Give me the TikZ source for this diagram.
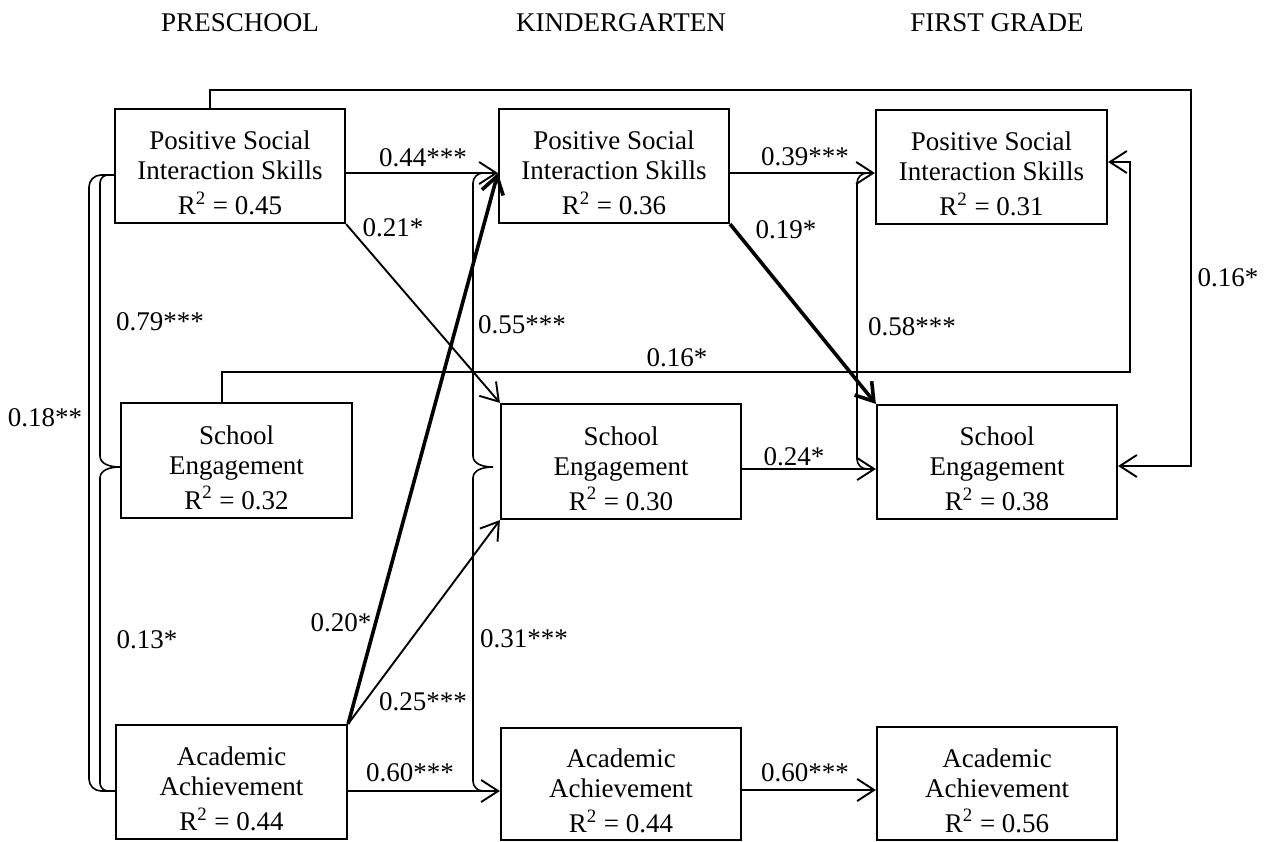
\documentclass[tikz,border=0pt]{standalone}
\usepackage{fontspec}
\setmainfont{Liberation Serif}
\usetikzlibrary{arrows.meta,fit,calc}
\begin{document}
\begin{tikzpicture}[x=0.5pt,y=-0.5pt,
  box/.style={draw, line width=1.1pt, inner sep=0pt},
  btext/.style={align=center, inner sep=0pt, font=\fontsize{13.5}{15}\selectfont},
  lab/.style={inner sep=0pt, font=\fontsize{13.5}{15}\selectfont},
  arr/.style={-{Straight Barb[length=8.5pt,width=11pt]}, line width=0.95pt},
  thickarr/.style={-{Straight Barb[length=8.5pt,width=11pt]}, line width=1.8pt},
  corr/.style={line width=0.8pt, rounded corners=#1},
  corr/.default=5pt,
  brace/.style={line width=0.8pt},
]
\useasboundingbox (0,0) rectangle (1268,841);

% headers
\node[lab] (h1) at (240,23) {PRESCHOOL};
\node[lab] (h2) at (621,23) {KINDERGARTEN};
\node[lab] (h3) at (997,23) {FIRST GRADE};

% boxes
\node[box, fit={(115,109) (345,223)}] (ppsis) {};
\node[box, fit={(121,403) (352,518)}] (pse) {};
\node[box, fit={(116,725) (347,839)}] (paa) {};
\node[box, fit={(499,109) (729,223)}] (kpsis) {};
\node[box, fit={(501,404) (741,519)}] (kse) {};
\node[box, fit={(501,728) (741,840)}] (kaa) {};
\node[box, fit={(876,110) (1107,224)}] (fpsis) {};
\node[box, fit={(877,405) (1117,519)}] (fse) {};
\node[box, fit={(877,727) (1117,840)}] (faa) {};

% box texts
\node[btext] (tppsis) at ([yshift=-3.5pt]ppsis.center) {Positive Social\\Interaction Skills\\[2.5pt]R\textsuperscript{2} = 0.45};
\node[btext] (tpse) at ([yshift=-3.5pt]pse.center) {School\\Engagement\\[2.5pt]R\textsuperscript{2} = 0.32};
\node[btext] (tpaa) at ([yshift=-3.5pt]paa.center) {Academic\\Achievement\\[2.5pt]R\textsuperscript{2} = 0.44};
\node[btext] (tkpsis) at ([yshift=-3.5pt]kpsis.center) {Positive Social\\Interaction Skills\\[2.5pt]R\textsuperscript{2} = 0.36};
\node[btext] (tkse) at ([yshift=-3.5pt]kse.center) {School\\Engagement\\[2.5pt]R\textsuperscript{2} = 0.30};
\node[btext] (tkaa) at ([yshift=-3.5pt]kaa.center) {Academic\\Achievement\\[2.5pt]R\textsuperscript{2} = 0.44};
\node[btext] (tfpsis) at ([yshift=-3.5pt]fpsis.center) {Positive Social\\Interaction Skills\\[2.5pt]R\textsuperscript{2} = 0.31};
\node[btext] (tfse) at ([yshift=-3.5pt]fse.center) {School\\Engagement\\[2.5pt]R\textsuperscript{2} = 0.38};
\node[btext] (tfaa) at ([yshift=-3.5pt]faa.center) {Academic\\Achievement\\[2.5pt]R\textsuperscript{2} = 0.56};

% helper coordinates
\coordinate (r1) at (0,173);
\coordinate (r5) at (0,791);
\coordinate (r8) at (0,469);
\coordinate (r9) at (0,790);
\coordinate (c175) at (0,175);
\coordinate (a10) at (222,372);
\coordinate (b10) at (1130,162);
\coordinate (a11) at (210,90);
\coordinate (b11) at (1191,466);

% correlation brackets (preschool)
\draw[corr=6pt] (ppsis.west |- c175) -- (89,175) -- (89,791) -- (paa.west |- r5);
\draw[corr=4pt] (ppsis.west |- c175) -- (100,175) -- (100,456);
\draw[brace] (100,456) .. controls (100,464) and (110,467) .. (120,467)
             .. controls (110,467) and (100,470) .. (100,478);
\draw[corr=4pt] (100,478) -- (100,791) -- (paa.west |- r5);

% correlation brackets (kindergarten)
\coordinate (kt) at (488,173);
\coordinate (ktip) at (493,467);
\coordinate (kb) at (488,791);
\draw[corr=5pt] (kt) -- (473,173) -- (473,456);
\draw[brace] (473,456) .. controls (473,464) and (483,467) .. (ktip)
             .. controls (483,467) and (473,470) .. (473,478);
\draw[corr=5pt] (473,478) -- (473,791) -- (kb);

% correlation bracket (first grade)
\coordinate (ft) at (872,173);
\coordinate (fb) at (872,469);
\draw[corr=5pt] (ft) -- (857,173) -- (857,469) -- (fb);

% paths
\draw[arr] (ppsis.east |- r1) -- (kpsis.west |- r1);
\draw[arr] (ppsis.south east) -- (kse.north west);
\draw[thickarr] (paa.north east) -- (kpsis.west |- r1);
\draw[arr] (paa.north east) -- (kse.south west);
\draw[arr] (paa.east |- r5) -- (kaa.west |- r5);
\draw[arr] (kpsis.east |- r1) -- (fpsis.west |- r1);
\draw[thickarr] (kpsis.south east) -- (fse.north west);
\draw[arr] (kse.east |- r8) -- (fse.west |- r8);
\draw[arr] (kaa.east |- r9) -- (faa.west |- r9);
\draw[arr] (a10 |- pse.north) -- (a10) -| (b10) -- (fpsis.east |- b10);
\draw[arr] (a11 |- ppsis.north) -- (a11) -| (b11) -- (fse.east |- b11);

% labels
\node[lab] (l1) at (423,158) {0.44***};
\node[lab] (l2) at (393,228) {0.21*};
\node[lab] (l3) at (160,322) {0.79***};
\node[lab] (l4) at (45,418) {0.18**};
\node[lab] (l5) at (147,640) {0.13*};
\node[lab] (l6) at (341,623) {0.20*};
\node[lab] (l7) at (423,702) {0.25***};
\node[lab] (l8) at (410,773) {0.60***};
\node[lab] (l9) at (805,157) {0.39***};
\node[lab] (l10) at (786,230) {0.19*};
\node[lab] (l11) at (522,325) {0.55***};
\node[lab] (l12) at (677,358) {0.16*};
\node[lab] (l13) at (912,327) {0.58***};
\node[lab] (l14) at (794,457) {0.24*};
\node[lab] (l15) at (524,639) {0.31***};
\node[lab] (l16) at (805,773) {0.60***};
\node[lab] (l17) at (1228,278) {0.16*};
\end{tikzpicture}
\end{document}
